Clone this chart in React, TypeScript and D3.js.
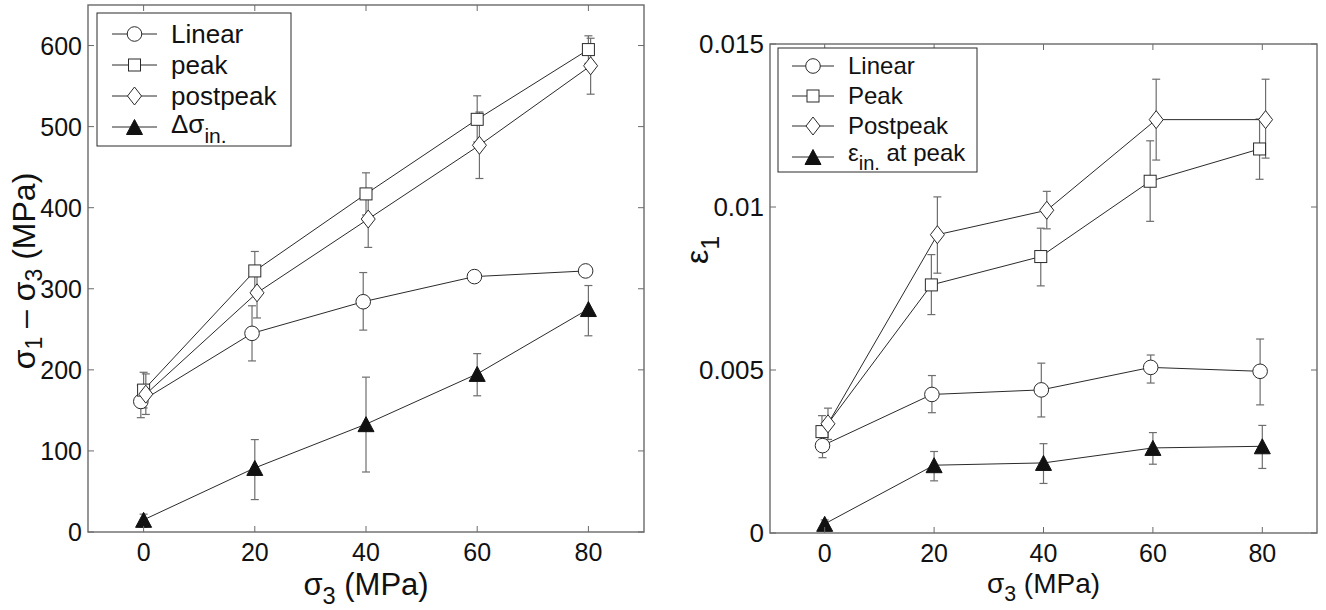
import React from "react";
import * as d3 from "d3";

// ---------- data ----------
const confPressure = [0, 20, 40, 60, 80];

// Left panel: differential stress (MPa)
const stressLinear = [161, 245, 284, 315, 322];
const stressLinearLo = [141, 211, 249, null, null];
const stressLinearHi = [181, 279, 320, null, null];
const stressPeak = [175, 322, 417, 509, 595];
const stressPeakLo = [153, 298, 391, 481, 578];
const stressPeakHi = [197, 346, 443, 538, 612];
const stressPost = [170, 295, 386, 477, 575];
const stressPostLo = [145, 264, 351, 436, 540];
const stressPostHi = [195, 325, 421, 518, 609];
const stressInel = [15, 79, 133, 195, 275];
const stressInelLo = [6, 40, 74, 168, 242];
const stressInelHi = [22, 114, 191, 220, 304];

// Right panel: axial strain
const strainLinear = [0.00268, 0.00425, 0.00439, 0.00508, 0.00496];
const strainLinearLo = [0.00231, 0.00369, 0.00356, 0.0046, 0.00393];
const strainLinearHi = [0.00305, 0.00483, 0.00521, 0.00546, 0.00595];
const strainPeak = [0.00311, 0.00761, 0.00848, 0.01079, 0.01178];
const strainPeakLo = [0.0026, 0.0067, 0.00758, 0.00956, 0.01085];
const strainPeakHi = [0.0036, 0.00854, 0.00935, 0.01203, 0.0127];
const strainPost = [0.00335, 0.00915, 0.0099, 0.01268, 0.01268];
const strainPostLo = [0.00287, 0.00797, 0.00933, 0.01144, 0.0115];
const strainPostHi = [0.00383, 0.01031, 0.01048, 0.01392, 0.01392];
const strainInel = [0.00028, 0.00208, 0.00215, 0.00261, 0.00266];
const strainInelLo = [0.0001, 0.0016, 0.00152, 0.00211, 0.00198];
const strainInelHi = [0.0004, 0.0025, 0.00274, 0.00308, 0.0033];

const xTicks = [0, 20, 40, 60, 80];
const xTickLabels = ["0", "20", "40", "60", "80"];
const leftYTicks = [0, 100, 200, 300, 400, 500, 600];
const leftYTickLabels = ["0", "100", "200", "300", "400", "500", "600"];
const rightYTicks = [0, 0.005, 0.01, 0.015];
const rightYTickLabels = ["0", "0.005", "0.01", "0.015"];

// small horizontal jitter (data units) that the original plot applies per series
const leftJitter = [-0.5, 0, 0.4, 0];
const rightJitter = [-0.4, -0.5, 0.6, 0];

const FONT = "'Liberation Sans', Arial, Helvetica, sans-serif";
const LINE = "#2a2a2a";
const ERR = "#6e6e6e";
const AXIS = "#6a6a6a";

type Marker = "circle" | "square" | "diamond" | "triangle";

function MarkerShape({ type, x, y }: { type: Marker; x: number; y: number }) {
  if (type === "circle")
    return <circle cx={x} cy={y} r={7.3} fill="#fff" stroke={LINE} strokeWidth={1} />;
  if (type === "square")
    return <rect x={x - 6} y={y - 6} width={12} height={12} fill="#fff" stroke={LINE} strokeWidth={1} />;
  if (type === "diamond")
    return (
      <path
        d={`M${x},${y - 9}L${x + 7},${y}L${x},${y + 9}L${x - 7},${y}Z`}
        fill="#fff"
        stroke={LINE}
        strokeWidth={1}
      />
    );
  return (
    <path d={`M${x},${y - 7.5}L${x + 8},${y + 7.5}L${x - 8},${y + 7.5}Z`} fill="#111" stroke="#111" strokeWidth={1} />
  );
}

type Series = {
  marker: Marker;
  values: number[];
  lo: (number | null)[];
  hi: (number | null)[];
  jitter: number;
};

type PanelProps = {
  left: number;
  top: number;
  width: number;
  height: number;
  yDomain: [number, number];
  yTicks: number[];
  yTickLabels: string[];
  series: Series[];
  xTickFont: number;
  yTickFont: number;
  labelFont: number;
  labelBaseline: number;
};

function Panel({
  left,
  top,
  width,
  height,
  yDomain,
  yTicks,
  yTickLabels,
  series,
  xTickFont,
  yTickFont,
  labelFont,
  labelBaseline,
}: PanelProps) {
  const x = d3.scaleLinear().domain([-10, 90]).range([left, left + width]);
  const y = d3.scaleLinear().domain(yDomain).range([top + height, top]);
  const bottom = top + height;
  const right = left + width;
  const tl = 6;
  return (
    <g>
      {series.map((s, si) => {
        const line = d3
          .line<number>()
          .x((_, i) => x(confPressure[i] + s.jitter))
          .y((v) => y(v));
        return (
          <g key={si}>
            {s.values.map((v, i) => {
              const lo = s.lo[i];
              const hi = s.hi[i];
              if (lo == null || hi == null) return null;
              const cx = x(confPressure[i] + s.jitter);
              return (
                <g key={i} stroke={ERR} strokeWidth={1.2}>
                  <line x1={cx} x2={cx} y1={y(lo)} y2={y(hi)} />
                  <line x1={cx - 4} x2={cx + 4} y1={y(lo)} y2={y(lo)} />
                  <line x1={cx - 4} x2={cx + 4} y1={y(hi)} y2={y(hi)} />
                </g>
              );
            })}
            <path d={line(s.values) || ""} fill="none" stroke={LINE} strokeWidth={1} />
          </g>
        );
      })}
      {series.map((s, si) => (
        <g key={"m" + si}>
          {s.values.map((v, i) => (
            <MarkerShape key={i} type={s.marker} x={x(confPressure[i] + s.jitter)} y={y(v)} />
          ))}
        </g>
      ))}
      <rect x={left} y={top} width={width} height={height} fill="none" stroke={AXIS} strokeWidth={1.4} />
      {xTicks.map((t, i) => (
        <g key={"xt" + i}>
          <line x1={x(t)} x2={x(t)} y1={bottom} y2={bottom - tl} stroke={AXIS} strokeWidth={1} />
          <line x1={x(t)} x2={x(t)} y1={top} y2={top + tl} stroke={AXIS} strokeWidth={1} />
          <text
            x={x(t)}
            y={bottom + 11 + xTickFont * 0.72}
            textAnchor="middle"
            fontSize={xTickFont}
            fontFamily={FONT}
            fill="#111"
          >
            {xTickLabels[i]}
          </text>
        </g>
      ))}
      {yTicks.map((t, i) => (
        <g key={"yt" + i}>
          <line x1={left} x2={left + tl} y1={y(t)} y2={y(t)} stroke={AXIS} strokeWidth={1} />
          <line x1={right} x2={right - tl} y1={y(t)} y2={y(t)} stroke={AXIS} strokeWidth={1} />
          <text
            x={left - 6}
            y={y(t) + yTickFont * 0.36}
            textAnchor="end"
            fontSize={yTickFont}
            fontFamily={FONT}
            fill="#111"
          >
            {yTickLabels[i]}
          </text>
        </g>
      ))}
      <text
        x={(left + right) / 2}
        y={labelBaseline}
        textAnchor="middle"
        fontSize={labelFont}
        fontFamily={FONT}
        fill="#111"
      >
        <tspan>σ</tspan>
        <tspan dy={labelFont * 0.28} fontSize={labelFont * 0.76}>3</tspan>
        <tspan dy={-labelFont * 0.28}> (MPa)</tspan>
      </text>
    </g>
  );
}

function Legend({
  bx,
  by,
  bw,
  bh,
  rowY,
  lineX,
  textX,
  fontSize,
  entries,
}: {
  bx: number;
  by: number;
  bw: number;
  bh: number;
  rowY: number[];
  lineX: [number, number];
  textX: number;
  fontSize: number;
  entries: { marker: Marker; label: React.ReactNode }[];
}) {
  const mx = (lineX[0] + lineX[1]) / 2;
  return (
    <g>
      <rect x={bx} y={by} width={bw} height={bh} fill="#fff" stroke={LINE} strokeWidth={1} />
      {entries.map((e, i) => (
        <g key={i}>
          <line x1={lineX[0]} x2={lineX[1]} y1={rowY[i]} y2={rowY[i]} stroke={LINE} strokeWidth={1} />
          <MarkerShape type={e.marker} x={mx} y={rowY[i]} />
          <text x={textX} y={rowY[i] + fontSize * 0.33} fontSize={fontSize} fontFamily={FONT} fill="#111">
            {e.label}
          </text>
        </g>
      ))}
    </g>
  );
}

export default function App() {
  const markers: Marker[] = ["circle", "square", "diamond", "triangle"];
  const leftSeries: Series[] = [
    { marker: markers[0], values: stressLinear, lo: stressLinearLo, hi: stressLinearHi, jitter: leftJitter[0] },
    { marker: markers[1], values: stressPeak, lo: stressPeakLo, hi: stressPeakHi, jitter: leftJitter[1] },
    { marker: markers[2], values: stressPost, lo: stressPostLo, hi: stressPostHi, jitter: leftJitter[2] },
    { marker: markers[3], values: stressInel, lo: stressInelLo, hi: stressInelHi, jitter: leftJitter[3] },
  ];
  const rightSeries: Series[] = [
    { marker: markers[0], values: strainLinear, lo: strainLinearLo, hi: strainLinearHi, jitter: rightJitter[0] },
    { marker: markers[1], values: strainPeak, lo: strainPeakLo, hi: strainPeakHi, jitter: rightJitter[1] },
    { marker: markers[2], values: strainPost, lo: strainPostLo, hi: strainPostHi, jitter: rightJitter[2] },
    { marker: markers[3], values: strainInel, lo: strainInelLo, hi: strainInelHi, jitter: rightJitter[3] },
  ];
  return (
    <svg width={1326} height={610} style={{ position: "absolute", left: 0, top: 0, background: "#fff" }}>
      <rect width={1326} height={610} fill="#fff" />
      <Panel
        left={88}
        top={5}
        width={556}
        height={527}
        yDomain={[0, 650]}
        yTicks={leftYTicks}
        yTickLabels={leftYTickLabels}
        series={leftSeries}
        xTickFont={25}
        yTickFont={25}
        labelFont={31}
        labelBaseline={595}
      />
      <Panel
        left={770}
        top={44}
        width={547}
        height={489}
        yDomain={[0, 0.015]}
        yTicks={rightYTicks}
        yTickLabels={rightYTickLabels}
        series={rightSeries}
        xTickFont={25}
        yTickFont={26}
        labelFont={28}
        labelBaseline={593}
      />
      {/* y labels */}
      <text transform="translate(35,271) rotate(-90)" textAnchor="middle" fontSize={32} fontFamily={FONT} fill="#111">
        <tspan>σ</tspan>
        <tspan dy={7} fontSize={23}>1</tspan>
        <tspan dy={-7}> – σ</tspan>
        <tspan dy={7} fontSize={23}>3</tspan>
        <tspan dy={-7}> (MPa)</tspan>
      </text>
      <text transform="translate(708,250) rotate(-90)" textAnchor="middle" fontSize={32} fontFamily={FONT} fill="#111">
        <tspan>ε</tspan>
        <tspan dy={11} fontSize={25}>1</tspan>
      </text>
      <Legend
        bx={97}
        by={13}
        bw={194}
        bh={133}
        rowY={[34, 65, 96, 127]}
        lineX={[112, 157]}
        textX={171}
        fontSize={26}
        entries={[
          { marker: "circle", label: "Linear" },
          { marker: "square", label: "peak" },
          { marker: "diamond", label: "postpeak" },
          {
            marker: "triangle",
            label: (
              <>
                <tspan dy={-3}>Δσ</tspan>
                <tspan dy={10} fontSize={21}>in.</tspan>
              </>
            ),
          },
        ]}
      />
      <Legend
        bx={778}
        by={48}
        bw={199}
        bh={124}
        rowY={[66, 96, 126, 157]}
        lineX={[792, 834]}
        textX={848}
        fontSize={24}
        entries={[
          { marker: "circle", label: "Linear" },
          { marker: "square", label: "Peak" },
          { marker: "diamond", label: "Postpeak" },
          {
            marker: "triangle",
            label: (
              <>
                <tspan dy={-4}>ε</tspan>
                <tspan dy={9} fontSize={20}>in.</tspan>
                <tspan dy={-9}> at peak</tspan>
              </>
            ),
          },
        ]}
      />
    </svg>
  );
}
